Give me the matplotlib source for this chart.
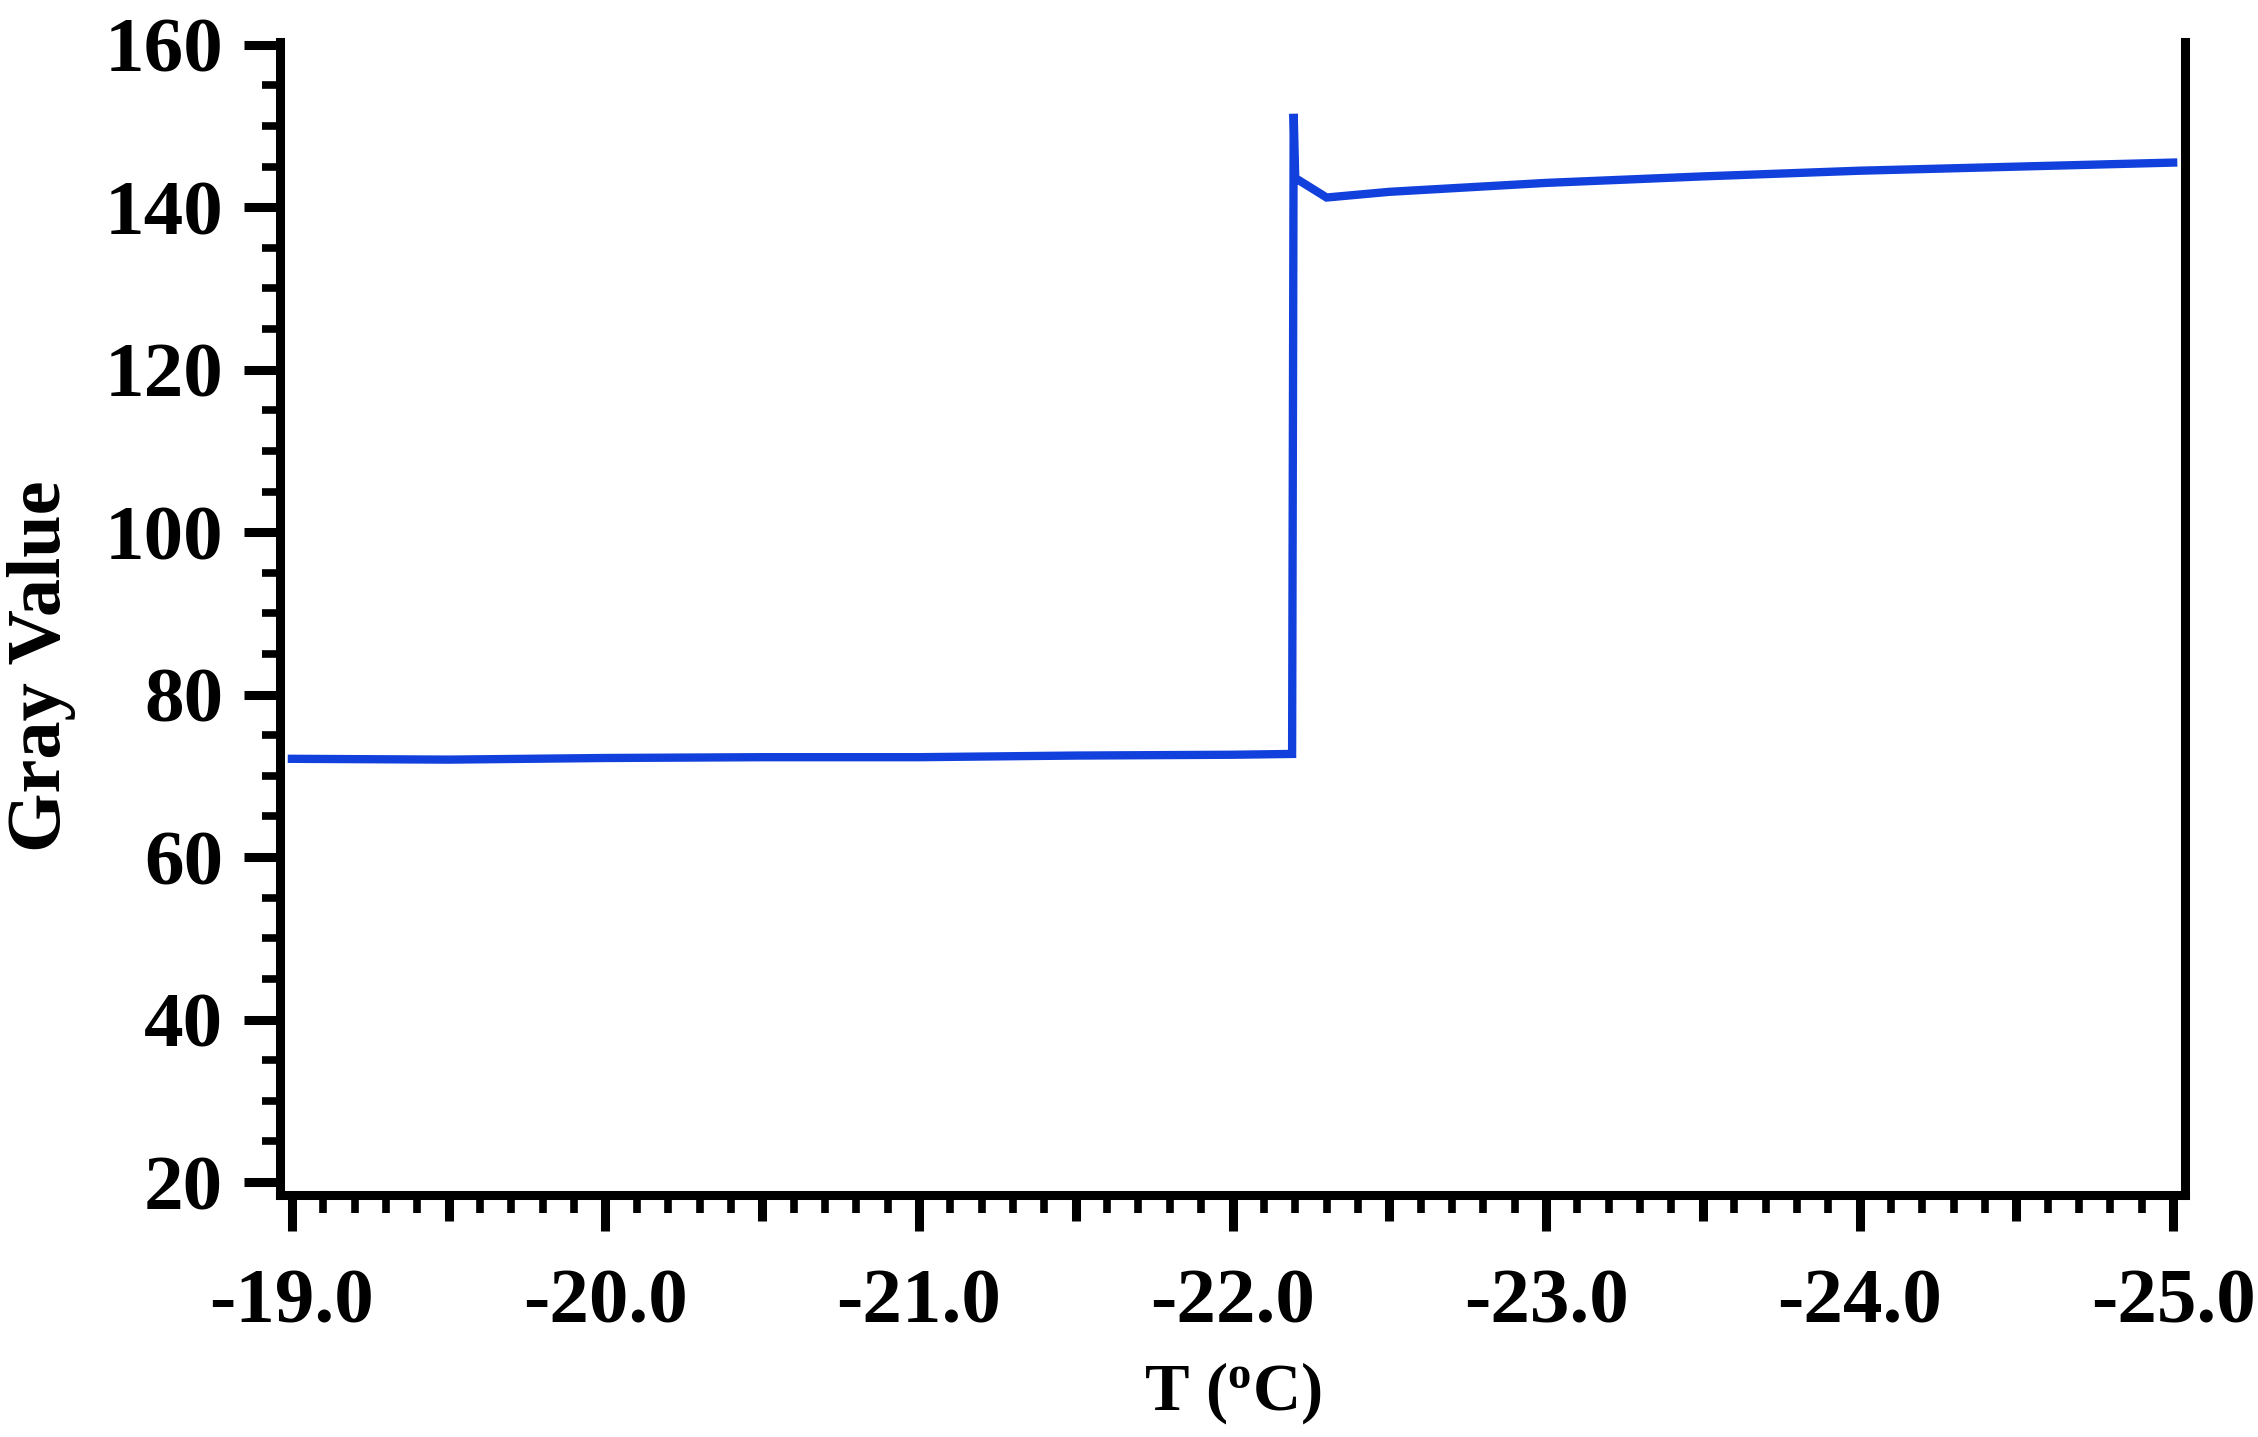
import numpy as np
import matplotlib
matplotlib.use("Agg")
import matplotlib.pyplot as plt
from matplotlib.ticker import MultipleLocator, FixedLocator

plt.rcParams.update({
    "font.family": "Liberation Serif",
    "font.weight": "bold",
    "mathtext.fontset": "custom",
    "mathtext.rm": "Liberation Serif:bold",
    "mathtext.it": "Liberation Serif:bold",
    "mathtext.bf": "Liberation Serif:bold",
})

# temperature (degC) and gray value
T = [-19.0, -19.5, -20.0, -20.5, -21.0, -21.5, -22.0, -22.19,
     -22.195, -22.20, -22.30, -22.5, -23.0, -23.5, -24.0, -24.5, -25.0]
GRAY = [72.1, 72.0, 72.2, 72.3, 72.3, 72.5, 72.6, 72.7,
        151.5, 143.6, 141.2, 141.9, 143.0, 143.8, 144.5, 145.0, 145.5]

X_MAJOR = [-19.0, -20.0, -21.0, -22.0, -23.0, -24.0, -25.0]
X_LABELS = ["-19.0", "-20.0", "-21.0", "-22.0", "-23.0", "-24.0", "-25.0"]
X_MID = [-19.5, -20.5, -21.5, -22.5, -23.5, -24.5]
Y_MAJOR = [20, 40, 60, 80, 100, 120, 140, 160]

fig = plt.figure(figsize=(22.58, 14.37), dpi=100)
ax = fig.add_axes([0.124, 0.1684, 0.8437, 0.8024])

ax.plot(T, GRAY, color="#1240dc", lw=6, solid_joinstyle="miter")

ax.set_xlim(-18.962, -25.038)
ax.set_ylim(18.4, 160.35)

# major ticks at integers and halves; halves shortened and unlabeled
xt = sorted(X_MAJOR + X_MID, reverse=True)
ax.xaxis.set_major_locator(FixedLocator(xt))
ax.set_xticklabels([X_LABELS[X_MAJOR.index(v)] if v in X_MAJOR else "" for v in xt])
ax.xaxis.set_minor_locator(MultipleLocator(0.1))
ax.yaxis.set_major_locator(FixedLocator(Y_MAJOR))
ax.yaxis.set_minor_locator(MultipleLocator(5))

ax.tick_params(axis="both", which="major", direction="out", length=26, width=6.5, labelsize=57)
ax.tick_params(axis="both", which="minor", direction="out", length=13, width=5.5)
ax.tick_params(axis="x", which="major", pad=27)
ax.tick_params(axis="y", which="major", pad=15)
ax.tick_params(right=False, top=False, which="both")
fig.canvas.draw()
for tk, v in zip(ax.xaxis.get_major_ticks(), xt):
    if v in X_MID:
        tk.tick1line.set_markersize(19)

for s in ["left", "bottom", "right"]:
    ax.spines[s].set_linewidth(6.5)
    ax.spines[s].set_capstyle("projecting")
ax.spines["top"].set_visible(False)

ax.set_xlabel(r"T ($\mathrm{^o}$C)", fontsize=48, fontweight="bold", va="top")
ax.xaxis.set_label_coords(0.5, -0.143)
ax.set_ylabel("Gray Value", fontsize=55, fontweight="bold", va="center")
ax.yaxis.set_label_coords(-0.125, 0.459)

fig.savefig("out.png", dpi=100)
